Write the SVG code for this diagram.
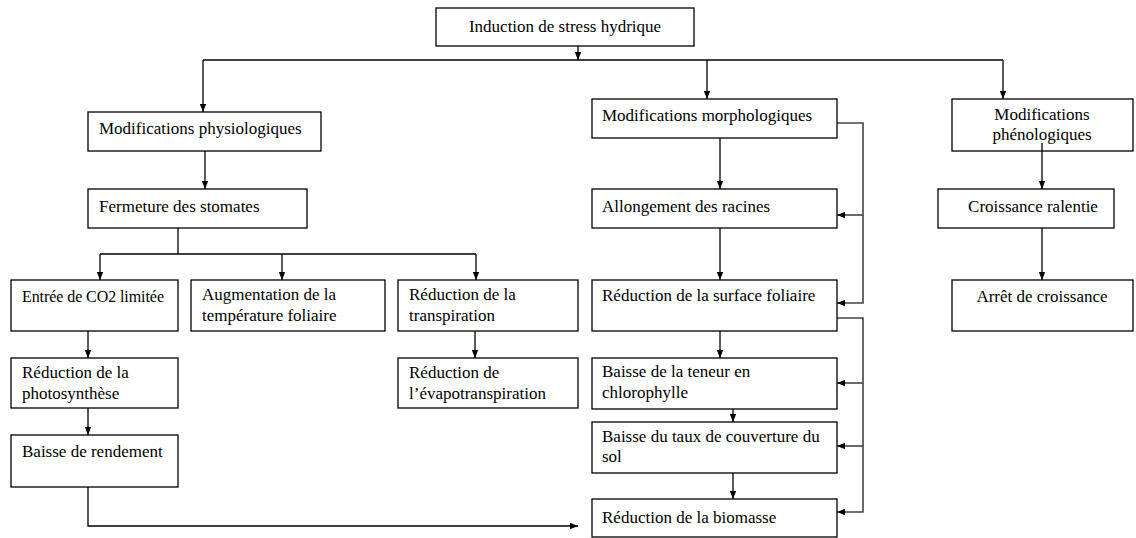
<svg xmlns="http://www.w3.org/2000/svg" width="1136" height="538" viewBox="0 0 1136 538">
<style>
.box{fill:#fff;stroke:#000;stroke-width:1.3}
.t{font-family:"Liberation Serif","Times New Roman",serif;font-size:17px;fill:#000}
.s{font-size:16px}
.c{text-anchor:middle}
.ln{fill:none;stroke:#000;stroke-width:1.3}
.br{fill:none;stroke:#444;stroke-width:1.6}
</style>
<defs>
<marker id="ah" viewBox="0 0 10 10" refX="10" refY="5" markerWidth="8" markerHeight="8" orient="auto" markerUnits="userSpaceOnUse">
<path d="M0,1 L10,5 L0,9 z" fill="#000"/>
</marker>
</defs>
<rect width="1136" height="538" fill="#fff"/>
<g id="connectors">
<path class="ln" d="M578,46 V60" marker-end="url(#ah)"/>
<path class="ln" d="M203,60 H1003"/>
<path class="ln" d="M203,60 V112" marker-end="url(#ah)"/>
<path class="ln" d="M707,60 V99" marker-end="url(#ah)"/>
<path class="ln" d="M1003,60 V99" marker-end="url(#ah)"/>
<path class="ln" d="M205,151 V189" marker-end="url(#ah)"/>
<path class="ln" d="M178,228 V254 M100,254 H476"/>
<path class="ln" d="M100,254 V280" marker-end="url(#ah)"/>
<path class="ln" d="M282,254 V280" marker-end="url(#ah)"/>
<path class="ln" d="M476,254 V280" marker-end="url(#ah)"/>
<path class="ln" d="M88,331 V358" marker-end="url(#ah)"/>
<path class="ln" d="M88,408 V435" marker-end="url(#ah)"/>
<path class="ln" d="M88,487 V526 H578" marker-end="url(#ah)"/>
<path class="ln" d="M475,331 V358" marker-end="url(#ah)"/>
<path class="ln" d="M720,138 V189" marker-end="url(#ah)"/>
<path class="ln" d="M720,228 V280" marker-end="url(#ah)"/>
<path class="ln" d="M720,331 V358" marker-end="url(#ah)"/>
<path class="ln" d="M733,409 V422" marker-end="url(#ah)"/>
<path class="ln" d="M733,473 V499" marker-end="url(#ah)"/>
<path class="br" d="M837,123 H863 V303 H837" marker-end="url(#ah)"/>
<path class="br" d="M863,215 H837" marker-end="url(#ah)"/>
<path class="br" d="M837,318 H863 V512 H837" marker-end="url(#ah)"/>
<path class="br" d="M863,383 H837" marker-end="url(#ah)"/>
<path class="br" d="M863,446 H837" marker-end="url(#ah)"/>
<path class="ln" d="M1042,228 V280" marker-end="url(#ah)"/>
</g>
<g id="n_induction"><rect class="box" x="436" y="8" width="258" height="38"/><text class="t c" x="565" y="32">Induction de stress hydrique</text></g>
<g id="n_physio"><rect class="box" x="88" y="112" width="233" height="39"/><text class="t" x="99" y="134">Modifications physiologiques</text></g>
<g id="n_morpho"><rect class="box" x="592" y="99" width="245" height="39"/><text class="t" x="602" y="121">Modifications morphologiques</text></g>
<g id="n_pheno"><rect class="box" x="952" y="99" width="181" height="52"/><text class="t c" x="1042" y="120">Modifications</text><text class="t c" x="1042" y="140">phénologiques</text></g>
<g id="n_fermeture"><rect class="box" x="88" y="189" width="219" height="39"/><text class="t" x="99" y="212">Fermeture des stomates</text></g>
<g id="n_allongement"><rect class="box" x="592" y="189" width="245" height="39"/><text class="t" x="602" y="212">Allongement des racines</text></g>
<g id="n_croissance"><rect class="box" x="938" y="189" width="176" height="39"/><text class="t c" x="1033" y="212">Croissance ralentie</text></g>
<g id="n_co2"><rect class="box" x="11" y="280" width="167" height="51"/><text class="t s" x="22" y="302" textLength="142">Entrée de CO2 limitée</text></g>
<g id="n_temp"><rect class="box" x="191" y="280" width="194" height="51"/><text class="t" x="202" y="300">Augmentation de la</text><text class="t" x="202" y="321">température foliaire</text></g>
<g id="n_transp"><rect class="box" x="398" y="280" width="180" height="51"/><text class="t" x="409" y="300">Réduction de la</text><text class="t" x="409" y="321">transpiration</text></g>
<g id="n_surface"><rect class="box" x="592" y="280" width="245" height="51"/><text class="t" x="602" y="301">Réduction de la surface foliaire</text></g>
<g id="n_arret"><rect class="box" x="952" y="280" width="181" height="51"/><text class="t c" x="1042" y="302">Arrêt de croissance</text></g>
<g id="n_photo"><rect class="box" x="11" y="358" width="167" height="50"/><text class="t" x="22" y="378">Réduction de la</text><text class="t" x="22" y="399">photosynthèse</text></g>
<g id="n_evapo"><rect class="box" x="398" y="358" width="180" height="50"/><text class="t" x="409" y="378">Réduction de</text><text class="t" x="409" y="399">l’évapotranspiration</text></g>
<g id="n_chloro"><rect class="box" x="592" y="358" width="245" height="51"/><text class="t" x="602" y="377">Baisse de la teneur en</text><text class="t" x="602" y="398">chlorophylle</text></g>
<g id="n_rendement"><rect class="box" x="11" y="435" width="167" height="52"/><text class="t" x="22" y="457">Baisse de rendement</text></g>
<g id="n_couverture"><rect class="box" x="592" y="422" width="245" height="51"/><text class="t" x="602" y="442">Baisse du taux de couverture du</text><text class="t" x="602" y="462">sol</text></g>
<g id="n_biomasse"><rect class="box" x="592" y="499" width="245" height="38"/><text class="t" x="602" y="523">Réduction de la biomasse</text></g>
<g id="connectors_over"><path class="ln" d="M1042,143 V189" marker-end="url(#ah)"/></g>
</svg>
